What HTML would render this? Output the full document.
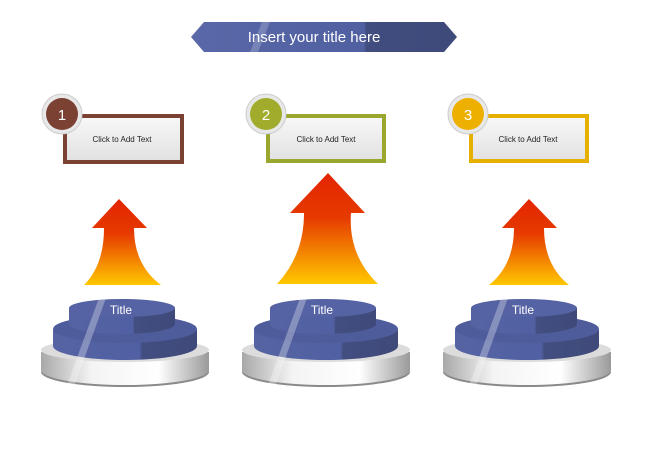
<!DOCTYPE html>
<html><head><meta charset="utf-8"><style>
html,body{margin:0;padding:0;background:#fff;}
svg{display:block;font-family:"Liberation Sans",sans-serif;}
</style></head><body>
<svg width="650" height="459" viewBox="0 0 650 459">
<defs>
<linearGradient id="ban" x1="0" x2="1"><stop offset="0" stop-color="#5a67a8"/><stop offset="0.65" stop-color="#5060a0"/><stop offset="0.66" stop-color="#414d7e"/><stop offset="1" stop-color="#3e4a7a"/></linearGradient>
<linearGradient id="arr" x1="0" y1="0" x2="0" y2="1"><stop offset="0" stop-color="#e32400"/><stop offset="0.4" stop-color="#e63a00"/><stop offset="1" stop-color="#ffc800"/></linearGradient>
<linearGradient id="box" x1="0" y1="0" x2="0" y2="1"><stop offset="0" stop-color="#f7f7f7"/><stop offset="1" stop-color="#e2e2e2"/></linearGradient>
<linearGradient id="silv" x1="0" x2="1"><stop offset="0" stop-color="#a8a8a8"/><stop offset="0.3" stop-color="#f4f4f4"/><stop offset="0.7" stop-color="#ffffff"/><stop offset="1" stop-color="#9a9a9a"/></linearGradient>
<linearGradient id="blue" x1="0" x2="1"><stop offset="0" stop-color="#5663a3"/><stop offset="0.6" stop-color="#5060a2"/><stop offset="0.62" stop-color="#424e80"/><stop offset="1" stop-color="#3f4a7a"/></linearGradient>
<g id="ped">
 <ellipse cx="326" cy="372" rx="84" ry="15" fill="#8a8a8a"/>
 <path d="M242,352 L242,370 A84,15 0 0 0 410,370 L410,352 Z" fill="url(#silv)"/>
 <ellipse cx="326" cy="350" rx="84" ry="12" fill="#dcdcdc"/>
 <path d="M254,330 L254,346 A72,14 0 0 0 398,346 L398,330 Z" fill="url(#blue)"/>
 <ellipse cx="326" cy="329" rx="72" ry="14" fill="#4f5c9c"/>
 <path d="M270,308 L270,324 A53,10 0 0 0 376,324 L376,308 Z" fill="url(#blue)"/>
 <ellipse cx="323" cy="308" rx="53" ry="9" fill="#5562a3"/>
 <path d="M300,298 L307,298 L275,387 L268,385 Z" fill="#fff" opacity="0.3"/>
 <text x="322" y="314" font-size="12" fill="#fff" text-anchor="middle">Title</text>
</g>
</defs>
<polygon points="191,37 204,22 444,22 457,37 444,52 204,52" fill="url(#ban)"/>
<polygon points="262,22 270,22 258,52 250,52" fill="#fff" opacity="0.2"/>
<text x="314" y="42" font-size="15" fill="#fff" text-anchor="middle">Insert your title here</text>

<!-- panels -->
<g>
 <rect x="63" y="114" width="121" height="50" fill="#7b4132"/>
 <rect x="67" y="118" width="113" height="42" fill="url(#box)"/>
 <circle cx="62" cy="114" r="20" fill="#e8e8e8" stroke="#ccc"/>
 <circle cx="62" cy="114" r="16" fill="#7b4132"/>
 <text x="62" y="120" font-size="15" fill="#fff" text-anchor="middle">1</text>
 <text x="122" y="142" font-size="8" fill="#222" text-anchor="middle">Click to Add Text</text>
</g>
<g>
 <rect x="266" y="114" width="120" height="49" fill="#9aa62e"/>
 <rect x="270" y="118" width="112" height="41" fill="url(#box)"/>
 <circle cx="266" cy="114" r="20" fill="#e8e8e8" stroke="#ccc"/>
 <circle cx="266" cy="114" r="16" fill="#a2ac2c"/>
 <text x="266" y="120" font-size="15" fill="#fff" text-anchor="middle">2</text>
 <text x="326" y="142" font-size="8" fill="#222" text-anchor="middle">Click to Add Text</text>
</g>
<g>
 <rect x="469" y="114" width="120" height="49" fill="#e6b000"/>
 <rect x="473" y="118" width="112" height="41" fill="url(#box)"/>
 <circle cx="468" cy="114" r="20" fill="#e8e8e8" stroke="#ccc"/>
 <circle cx="468" cy="114" r="16" fill="#eeb000"/>
 <text x="468" y="120" font-size="15" fill="#fff" text-anchor="middle">3</text>
 <text x="528" y="142" font-size="8" fill="#222" text-anchor="middle">Click to Add Text</text>
</g>

<!-- arrows -->
<path d="M119,199 L147,228 L134,228 Q134,265 161,285 L84,285 Q104,265 104,228 L92,228 Z" fill="url(#arr)"/>
<path d="M328,173 L365,213 L351,213 Q348,255 378,284 L277,284 Q304,255 304,213 L290,213 Z" fill="url(#arr)"/>
<path d="M529,199 L557,228 L544,228 Q544,265 569,285 L489,285 Q514,265 514,228 L502,228 Z" fill="url(#arr)"/>

<use href="#ped" transform="translate(-201,0)"/>
<use href="#ped"/>
<use href="#ped" transform="translate(201,0)"/>
</svg>
</body></html>
